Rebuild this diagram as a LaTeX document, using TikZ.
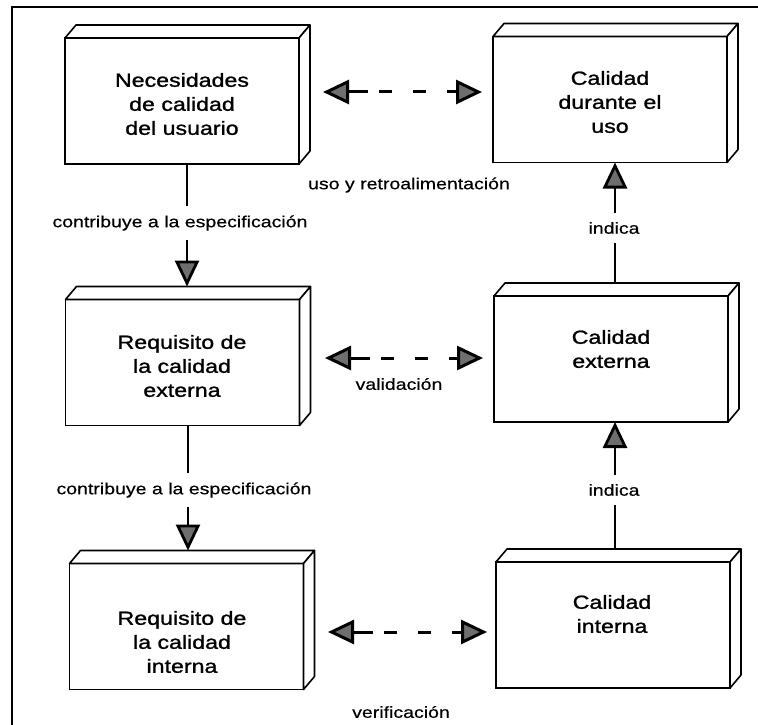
\documentclass[tikz,border=0pt]{standalone}
\usepackage{fontspec}
\newfontfamily\boxfont[FakeStretch=1.22,FakeBold=1.2]{Liberation Sans}
\newfontfamily\lblfont[FakeStretch=1.22,FakeBold=0.4]{Liberation Sans}
\usetikzlibrary{arrows.meta}
\definecolor{tipgray}{HTML}{6E6E6E}
\tikzset{
  cube/.style={draw=black, line width=1.6pt, minimum width=234pt, minimum height=126pt, inner sep=0pt, outer sep=0pt, fill=white},
  face/.style={draw=black, line width=1.6pt, line join=round, fill=white},
  boxtext/.style={font=\boxfont\fontsize{19}{24}\selectfont, align=center, inner sep=0pt},
  lbl/.style={font=\lblfont\fontsize{16}{19}\selectfont, inner xsep=2pt, inner ysep=9pt},
  conn/.style={line width=2.8pt},
  tip/.style={-{Triangle[length=26pt,width=24pt,fill=tipgray]}},
  dashedarrow/.style={line width=3pt, {Triangle[length=26pt,width=24pt,fill=tipgray]}-{Triangle[length=26pt,width=24pt,fill=tipgray]}, dash pattern=on 20pt off 11pt on 13pt off 21pt on 13pt off 21pt on 30pt},
  frameline/.style={line width=2pt}
}
\begin{document}
\begin{tikzpicture}[x=1pt,y=-1pt]
\useasboundingbox (0,0) rectangle (758,725);
\draw[frameline] (758,7) -- (12,7) -- (12,725);

% boxes
\node[cube] (b1) at (182,101) {};
\node[cube] (b2) at (610,99.5) {};
\node[cube] (b3) at (182.5,362.5) {};
\node[cube] (b4) at (611,359) {};
\node[cube] (b5) at (186.5,626.5) {};
\node[cube] (b6) at (613,625) {};
\foreach \b in {b1,b2,b3,b4,b5,b6}{
  \draw[face] (\b.north west) -- ([shift={(11,-13)}]\b.north west) -- ([shift={(11,-13)}]\b.north east) -- (\b.north east) -- cycle;
  \draw[face] (\b.north east) -- ([shift={(11,-13)}]\b.north east) -- ([shift={(11,-13)}]\b.south east) -- (\b.south east) -- cycle;
  \coordinate (\b top) at ([yshift=13pt]\b.north);
}

% box texts
\node[boxtext] (t1) at (182,104) {Necesidades\\de calidad\\del usuario};
\node[boxtext] (t2) at (610,102) {Calidad\\durante el\\uso};
\node[boxtext] (t3) at (182,366) {Requisito de\\la calidad\\externa};
\node[boxtext] (t4) at (611,349) {Calidad\\externa};
\node[boxtext] (t5) at (182,642) {Requisito de\\la calidad\\interna};
\node[boxtext] (t6) at (612,614) {Calidad\\interna};

% labels
\node[lbl] (l1) at (180,223) {contribuye a la especificación};
\node[lbl] (l2) at (184,490) {contribuye a la especificación};
\node[lbl] (l3) at (409,185) {uso y retroalimentación};
\node[lbl] (l4) at (614,228) {indica};
\node[lbl] (l5) at (399,384) {validación};
\node[lbl] (l6) at (614,490) {indica};
\node[lbl] (l7) at (401,712) {verificación};

% vertical connectors
\coordinate (v1) at (187,0);
\coordinate (v2) at (188,0);
\coordinate (v3) at (615,0);
\draw[conn] (v1 |- b1.south) -- (v1 |- l1.north);
\draw[conn,tip] (v1 |- l1.south) -- (v1 |- b3top);
\draw[conn] (v2 |- b3.south) -- (v2 |- l2.north);
\draw[conn,tip] (v2 |- l2.south) -- (v2 |- b5top);
\draw[conn,tip] (v3 |- l4.north) -- (v3 |- b2.south);
\draw[conn] (v3 |- b4top) -- (v3 |- l4.south);
\draw[conn,tip] (v3 |- l6.north) -- (v3 |- b4.south);
\draw[conn] (v3 |- b6top) -- (v3 |- l6.south);

% dashed two-way arrows
\draw[dashedarrow] ([shift={(24,-9)}]b1.east) -- ([shift={(-11,-7.5)}]b2.west);
\draw[dashedarrow] ([shift={(25.5,-4.5)}]b3.east) -- ([shift={(-11,-1)}]b4.west);
\draw[dashedarrow] ([shift={(24.5,5.5)}]b5.east) -- ([shift={(-9,7)}]b6.west);
\end{tikzpicture}
\end{document}
